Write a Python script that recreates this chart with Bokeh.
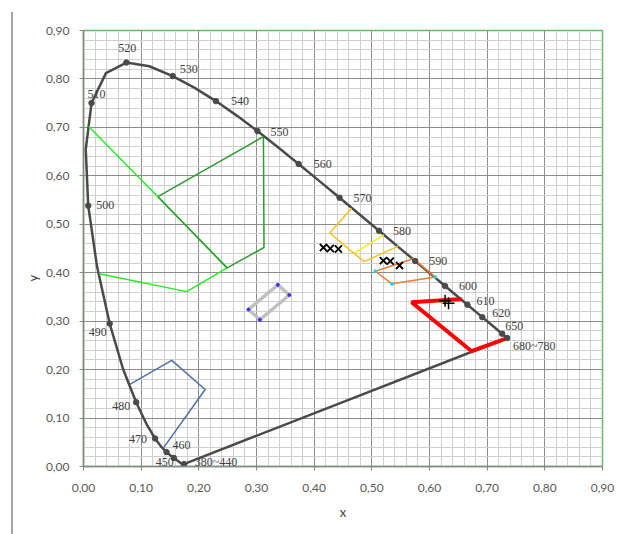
from bokeh.plotting import figure
from bokeh.models import (Range1d, FixedTicker, CustomJSTickFormatter, Div, Title,
                          ColumnDataSource, LabelSet)
from bokeh.layouts import row
from bokeh.embed import file_html
from bokeh.resources import INLINE

# ---------------- data ----------------
# CIE 1931 spectral locus (5 nm steps, 380..700 nm)
LOCUS_X = [0.1741, 0.1740, 0.1738, 0.1736, 0.1733, 0.1730, 0.1726, 0.1721, 0.1714, 0.1703,
           0.1689, 0.1669, 0.1644, 0.1611, 0.1566, 0.1510, 0.1440, 0.1355, 0.1241, 0.1096,
           0.0913, 0.0687, 0.0454, 0.0235, 0.0082, 0.0039, 0.0139, 0.0389, 0.0743, 0.1142,
           0.1547, 0.1929, 0.2296, 0.2658, 0.3016, 0.3373, 0.3731, 0.4087, 0.4441, 0.4788,
           0.5125, 0.5448, 0.5752, 0.6029, 0.6270, 0.6482, 0.6658, 0.6801, 0.6915, 0.7006,
           0.7079, 0.7140, 0.7190, 0.7230, 0.7260, 0.7283, 0.7300, 0.7311, 0.7320, 0.7327,
           0.7334, 0.7340, 0.7344, 0.7346, 0.7347]
LOCUS_Y = [0.0050, 0.0050, 0.0049, 0.0049, 0.0048, 0.0048, 0.0048, 0.0048, 0.0051, 0.0058,
           0.0069, 0.0086, 0.0109, 0.0138, 0.0177, 0.0227, 0.0297, 0.0399, 0.0578, 0.0868,
           0.1327, 0.2007, 0.2950, 0.4127, 0.5384, 0.6548, 0.7502, 0.8120, 0.8338, 0.8262,
           0.8059, 0.7816, 0.7543, 0.7243, 0.6923, 0.6589, 0.6245, 0.5896, 0.5547, 0.5202,
           0.4866, 0.4544, 0.4242, 0.3965, 0.3725, 0.3514, 0.3340, 0.3197, 0.3083, 0.2993,
           0.2920, 0.2859, 0.2809, 0.2770, 0.2740, 0.2717, 0.2700, 0.2689, 0.2680, 0.2673,
           0.2666, 0.2660, 0.2656, 0.2654, 0.2653]

# labelled wavelengths on the locus
WL_TEXT = ["380~440", "450", "460", "470", "480", "490", "500", "510", "520", "530", "540",
           "550", "560", "570", "580", "590", "600", "610", "620", "650", "680~780"]
WL_X = [0.1741, 0.1566, 0.1440, 0.1241, 0.0913, 0.0454, 0.0082, 0.0139, 0.0743, 0.1547, 0.2296,
        0.3016, 0.3731, 0.4441, 0.5125, 0.5752, 0.6270, 0.6658, 0.6915, 0.7260, 0.7347]
WL_Y = [0.0050, 0.0177, 0.0297, 0.0578, 0.1327, 0.2950, 0.5384, 0.7502, 0.8338, 0.8059, 0.7543,
        0.6923, 0.6245, 0.5547, 0.4866, 0.4242, 0.3725, 0.3340, 0.3083, 0.2740, 0.2653]

# purple line (380 -> 700)
PURPLE_X = [0.1741, 0.7347]
PURPLE_Y = [0.0050, 0.2653]

# colour regions (signal colour boundaries)
GREEN_WIDE_X = [0.027, 0.179, 0.249, 0.129, 0.009]
GREEN_WIDE_Y = [0.398, 0.361, 0.410, 0.557, 0.702]
GREEN_X = [0.129, 0.312, 0.313, 0.249, 0.129]
GREEN_Y = [0.557, 0.681, 0.452, 0.410, 0.557]
YELLOW_X = [0.465, 0.427, 0.469, 0.487, 0.546]
YELLOW_Y = [0.533, 0.482, 0.440, 0.423, 0.455]
YELLOW2_X = [0.469, 0.521]
YELLOW2_Y = [0.440, 0.478]
ORANGE_X = [0.572, 0.506, 0.535, 0.610, 0.572]
ORANGE_Y = [0.429, 0.403, 0.377, 0.391, 0.429]
RED_X = [0.656, 0.569, 0.673, 0.735]
RED_Y = [0.346, 0.339, 0.238, 0.265]
BLUE_X = [0.081, 0.153, 0.211, 0.139]
BLUE_Y = [0.170, 0.219, 0.159, 0.039]
WHITE_X = [0.286, 0.337, 0.357, 0.306, 0.286]
WHITE_Y = [0.324, 0.375, 0.354, 0.303, 0.324]

# measured points
MEAS_X = [0.416, 0.428, 0.442, 0.520, 0.532, 0.548]
MEAS_Y = [0.452, 0.450, 0.449, 0.425, 0.424, 0.415]
MEAS_PLUS_X = [0.627, 0.633]
MEAS_PLUS_Y = [0.342, 0.337]

# axes
X_TICKS = [0.0, 0.1, 0.2, 0.3, 0.4, 0.5, 0.6, 0.7, 0.8, 0.9]
X_TICK_LABELS = ["0,00", "0,10", "0,20", "0,30", "0,40", "0,50", "0,60", "0,70", "0,80", "0,90"]
Y_TICKS = [0.0, 0.1, 0.2, 0.3, 0.4, 0.5, 0.6, 0.7, 0.8, 0.9]
Y_TICK_LABELS = ["0,00", "0,10", "0,20", "0,30", "0,40", "0,50", "0,60", "0,70", "0,80", "0,90"]

# ---------------- layout / style ----------------
FONT = "Lato"
# label offsets in screen pixels (dx right, dy down)
LABEL_DX = [32, -9, 15, -17, -15, -12, 17, 5, 1, 16, 24, 22, 24, 23, 23, 23, 23, 18, 19, 12, 27]
LABEL_DY = [-2, 4, -7, 1, 4, 8, -1, -9, -15, -7, 0, 1, 0, 0, 0, 0, 0, -4, -4, -8, 8]

p = figure(width=606, height=528, output_backend="svg", toolbar_location=None,
           x_range=Range1d(0, 0.9), y_range=Range1d(0, 0.9),
           min_border_left=70, min_border_right=17, min_border_top=30, min_border_bottom=62)
p.background_fill_color = "white"
p.border_fill_color = "white"
p.outline_line_color = "#66BB66"
p.outline_line_width = 1.5

minor = [i * 0.02 for i in range(46)]
p.xaxis.ticker = FixedTicker(ticks=X_TICKS, minor_ticks=minor)
p.yaxis.ticker = FixedTicker(ticks=Y_TICKS, minor_ticks=minor)
p.xaxis.formatter = CustomJSTickFormatter(args=dict(labels=X_TICK_LABELS),
                                          code="return labels[Math.round(tick*10)];")
p.yaxis.formatter = CustomJSTickFormatter(args=dict(labels=Y_TICK_LABELS),
                                          code="return labels[Math.round(tick*10)];")
for ax in (p.xaxis[0], p.yaxis[0]):
    ax.axis_line_color = "#868686"
    ax.axis_line_width = 1.5
    ax.major_tick_line_color = "#868686"
    ax.major_tick_out = 4
    ax.major_tick_in = 0
    ax.minor_tick_line_color = None
    ax.major_label_text_font = FONT
    ax.major_label_text_font_size = "12px"
    ax.major_label_text_color = "#595959"
p.xaxis.major_label_standoff = 13
p.yaxis.major_label_standoff = 10
p.xaxis.axis_label = "x"
p.xaxis.axis_label_text_font = FONT
p.xaxis.axis_label_text_font_style = "normal"
p.xaxis.axis_label_text_font_size = "13px"
p.xaxis.axis_label_text_color = "#404040"
p.xaxis.axis_label_standoff = 9

for g in (p.xgrid[0], p.ygrid[0]):
    g.grid_line_color = "#8c8c8c"
    g.grid_line_width = 1
    g.minor_grid_line_color = "#cfcfcf"
    g.minor_grid_line_width = 1

p.add_layout(Title(text="y", align="left", offset=185, text_font=FONT,
                   text_font_size="13px", text_font_style="normal",
                   text_color="#404040", standoff=4), "left")

# spectral locus and purple line
p.line(LOCUS_X, LOCUS_Y, line_color="#4a4a4a", line_width=2.5, line_join="round")
p.line(PURPLE_X, PURPLE_Y, line_color="#4a4a4a", line_width=2.5)

# regions
p.line(GREEN_WIDE_X, GREEN_WIDE_Y, line_color="#22EE22", line_width=1.5)
p.line(GREEN_X, GREEN_Y, line_color="#2E9B2E", line_width=1.5)
p.line(YELLOW_X, YELLOW_Y, line_color="#F8C21C", line_width=1.5)
p.line(YELLOW2_X, YELLOW2_Y, line_color="#FFE81A", line_width=1.5)
p.line(ORANGE_X, ORANGE_Y, line_color="#ED7D31", line_width=1.5)
p.line(RED_X, RED_Y, line_color="#FF0000", line_width=4)
p.line(BLUE_X, BLUE_Y, line_color="#4F6FA5", line_width=1.5)
p.line(WHITE_X, WHITE_Y, line_color="#C0C0C0", line_width=3.5)
p.scatter(WHITE_X[:4], WHITE_Y[:4], size=3, color="#3333FF")
p.scatter(ORANGE_X[1:4], ORANGE_Y[1:4], size=3, color="#33CCEE")

# wavelength markers and labels
src = ColumnDataSource(dict(x=WL_X, y=WL_Y, t=WL_TEXT, dx=LABEL_DX,
                            dy=[-d for d in LABEL_DY]))
p.scatter("x", "y", source=src, size=5.5, color="#4a4a4a")
p.add_layout(LabelSet(x="x", y="y", text="t", source=src, x_offset="dx", y_offset="dy",
                      text_align="center", text_baseline="middle", text_font=FONT,
                      text_font_size="12px", text_color="#404040"))

# measured points
p.scatter(MEAS_X, MEAS_Y, marker="x", size=10, line_color="black", line_width=1.8)
p.scatter(MEAS_PLUS_X, MEAS_PLUS_Y, marker="cross", size=12, line_color="black", line_width=1.5)

edge = Div(width=2, height=522, margin=(12, 0, 0, 11), styles={"background-color": "#A6A6A6"})
layout = row(edge, p)

open("out.html", "w").write(file_html(layout, INLINE))
